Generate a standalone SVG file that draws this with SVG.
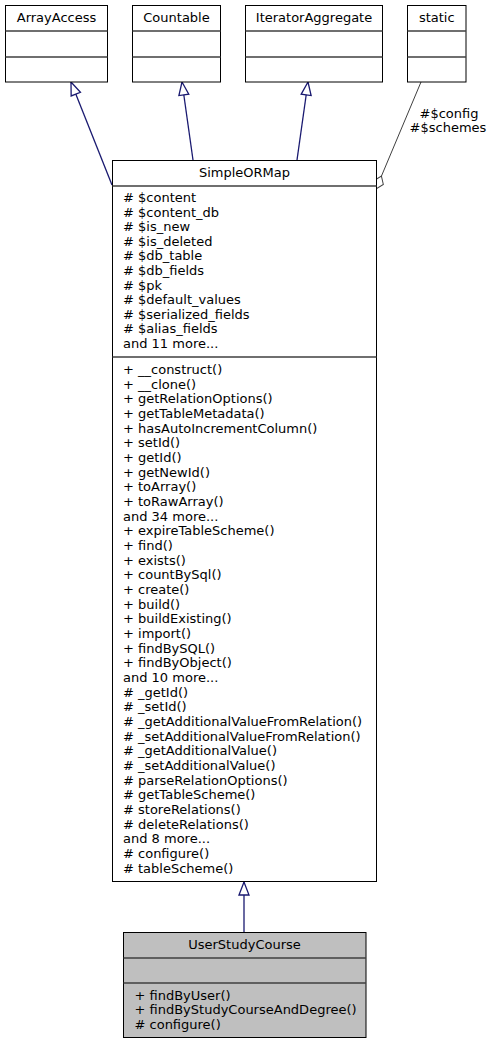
<svg xmlns="http://www.w3.org/2000/svg" width="491" height="1044" viewBox="0 0 491 1044">
<style>
text{font-family:"DejaVu Sans",sans-serif;font-size:13px;fill:#000}
.c{text-anchor:middle}
.box{fill:#fff;stroke:#000;stroke-width:1}
.sel{fill:#bfbfbf;stroke:#000;stroke-width:1}
.div{stroke:#404040;stroke-width:1.5;fill:none}
.inh{stroke:#191970;stroke-width:1.3;fill:none;marker-end:url(#tri)}
.use{stroke:#404040;stroke-width:1;fill:none;marker-end:url(#dia)}
</style>
<defs>
<marker id="tri" markerUnits="userSpaceOnUse" markerWidth="16" markerHeight="12" refX="13" refY="5" orient="auto" overflow="visible">
<path d="M0,0 L13,5 L0,10 Z" fill="#fff" stroke="#191970" stroke-width="1.3"/>
</marker>
<marker id="dia" markerUnits="userSpaceOnUse" markerWidth="16" markerHeight="12" refX="14" refY="5" orient="auto" overflow="visible">
<path d="M0,5 L7,0 L14,5 L7,10 Z" fill="#fff" stroke="#404040" stroke-width="1"/>
</marker>
</defs>
<g id="connectors">
<path class="inh" d="M112,185 L71,82"/>
<path class="inh" d="M193,160 L182,82"/>
<path class="inh" d="M297,160 L308,82"/>
<path class="inh" d="M244,932 L244,882"/>
<path class="use" d="M421,82 L376,189"/>
<text class="c" x="449" y="117.5">#$config</text>
<text class="c" x="448" y="131.5">#$schemes</text>
</g>
<g id="ArrayAccess">
<rect class="box" x="5.5" y="5.5" width="102" height="76.5"/>
<path class="div" d="M5.5,31 H107.5 M5.5,57 H107.5"/>
<text class="c" x="56.5" y="22">ArrayAccess</text>
</g>
<g id="Countable">
<rect class="box" x="132.5" y="5.5" width="88" height="76.5"/>
<path class="div" d="M132.5,31 H220.5 M132.5,57 H220.5"/>
<text class="c" x="176.5" y="22">Countable</text>
</g>
<g id="IteratorAggregate">
<rect class="box" x="245.5" y="5.5" width="137" height="76.5"/>
<path class="div" d="M245.5,31 H382.5 M245.5,57 H382.5"/>
<text class="c" x="314" y="22">IteratorAggregate</text>
</g>
<g id="static">
<rect class="box" x="407.5" y="5.5" width="58.5" height="76.5"/>
<path class="div" d="M407.5,31 H466 M407.5,57 H466"/>
<text class="c" x="436.75" y="22">static</text>
</g>
<g id="SimpleORMap">
<rect class="box" x="112.5" y="160.5" width="264" height="721"/>
<path class="div" d="M112.5,186 H376.5 M112.5,357 H376.5"/>
<text class="c" x="244.5" y="177">SimpleORMap</text>
<text x="123" y="202"># $content</text>
<text x="123" y="216.6"># $content_db</text>
<text x="123" y="231.2"># $is_new</text>
<text x="123" y="245.8"># $is_deleted</text>
<text x="123" y="260.4"># $db_table</text>
<text x="123" y="275"># $db_fields</text>
<text x="123" y="289.6"># $pk</text>
<text x="123" y="304.2"># $default_values</text>
<text x="123" y="318.8"># $serialized_fields</text>
<text x="123" y="333.4"># $alias_fields</text>
<text x="123" y="348">and 11 more...</text>
<text x="123" y="374">+ __construct()</text>
<text x="123" y="388.67">+ __clone()</text>
<text x="123" y="403.33">+ getRelationOptions()</text>
<text x="123" y="418">+ getTableMetadata()</text>
<text x="123" y="432.67">+ hasAutoIncrementColumn()</text>
<text x="123" y="447.33">+ setId()</text>
<text x="123" y="462">+ getId()</text>
<text x="123" y="476.67">+ getNewId()</text>
<text x="123" y="491.33">+ toArray()</text>
<text x="123" y="506">+ toRawArray()</text>
<text x="123" y="520.67">and 34 more...</text>
<text x="123" y="535.33">+ expireTableScheme()</text>
<text x="123" y="550">+ find()</text>
<text x="123" y="564.67">+ exists()</text>
<text x="123" y="579.33">+ countBySql()</text>
<text x="123" y="594">+ create()</text>
<text x="123" y="608.67">+ build()</text>
<text x="123" y="623.33">+ buildExisting()</text>
<text x="123" y="638">+ import()</text>
<text x="123" y="652.67">+ findBySQL()</text>
<text x="123" y="667.33">+ findByObject()</text>
<text x="123" y="682">and 10 more...</text>
<text x="123" y="696.67"># _getId()</text>
<text x="123" y="711.33"># _setId()</text>
<text x="123" y="726"># _getAdditionalValueFromRelation()</text>
<text x="123" y="740.67"># _setAdditionalValueFromRelation()</text>
<text x="123" y="755.33"># _getAdditionalValue()</text>
<text x="123" y="770"># _setAdditionalValue()</text>
<text x="123" y="784.67"># parseRelationOptions()</text>
<text x="123" y="799.33"># getTableScheme()</text>
<text x="123" y="814"># storeRelations()</text>
<text x="123" y="828.67"># deleteRelations()</text>
<text x="123" y="843.33">and 8 more...</text>
<text x="123" y="858"># configure()</text>
<text x="123" y="872.67"># tableScheme()</text>
</g>
<g id="UserStudyCourse">
<rect class="sel" x="123.5" y="932.5" width="242.5" height="105"/>
<path class="div" d="M123.5,958 H366 M123.5,983 H366"/>
<text class="c" x="244.5" y="949">UserStudyCourse</text>
<text x="134.5" y="999.5">+ findByUser()</text>
<text x="134.5" y="1014">+ findByStudyCourseAndDegree()</text>
<text x="134.5" y="1028.5"># configure()</text>
</g>
</svg>
